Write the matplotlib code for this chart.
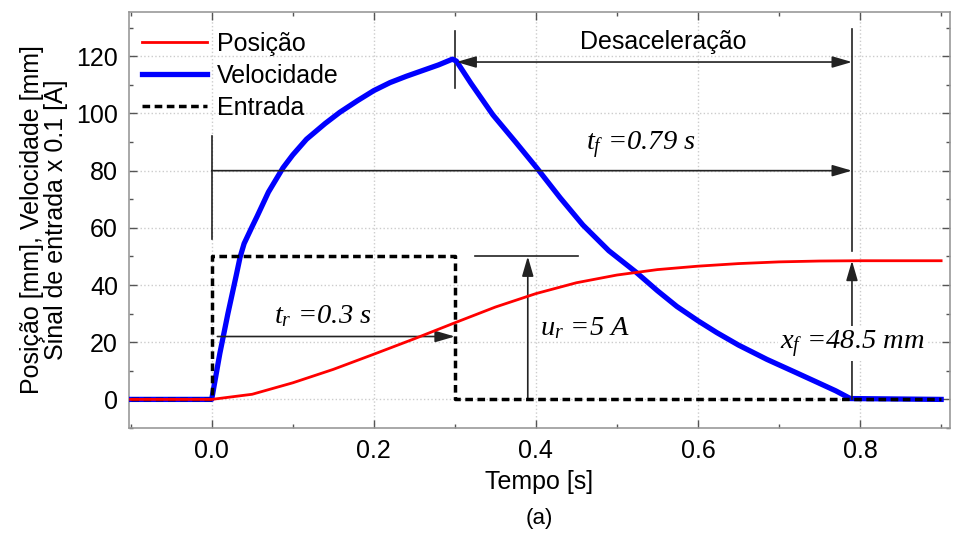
import numpy as np
import matplotlib
matplotlib.use("Agg")
import matplotlib.pyplot as plt
from matplotlib.ticker import MultipleLocator, FormatStrFormatter

plt.rcParams['font.family'] = ['Liberation Sans', 'DejaVu Sans']
plt.rcParams['mathtext.fontset'] = 'custom'
plt.rcParams['mathtext.it'] = 'Liberation Serif:italic'
plt.rcParams['mathtext.rm'] = 'Liberation Serif:italic'

# velocity
t_vel = [-0.1, 0.0, 0.01, 0.02, 0.03, 0.035, 0.04, 0.05, 0.056, 0.07, 0.088,
         0.1, 0.117, 0.14, 0.158, 0.18, 0.2, 0.22, 0.24, 0.26, 0.28, 0.297,
         0.302, 0.32, 0.347, 0.375, 0.401, 0.43, 0.458, 0.49, 0.524, 0.55,
         0.574, 0.6, 0.623, 0.65, 0.685, 0.72, 0.747, 0.77, 0.788, 0.9]
vel = [0, 0, 16, 30, 43, 49.7, 54.5, 60.5, 64, 72.5, 81,
       85.5, 91, 96.5, 100.4, 104.5, 108, 110.8, 113, 115, 117, 119,
       118.3, 110.5, 99.5, 90, 81, 70.5, 61, 52, 44.4, 38,
       32.5, 27.5, 23.4, 19, 14, 9.5, 6, 3, 0.3, 0]

# position [mm]
t_pos = [-0.1, 0.0, 0.05, 0.1, 0.15, 0.2, 0.25, 0.3, 0.35, 0.4, 0.45,
         0.5, 0.55, 0.6, 0.65, 0.7, 0.75, 0.8, 0.9]
pos = [0, 0, 1.8, 5.8, 10.5, 15.8, 21.2, 26.8, 32.3, 37.0, 40.8,
       43.5, 45.4, 46.6, 47.5, 48.1, 48.4, 48.5, 48.5]

# input signal x 0.1 [A]
t_in = [-0.1, 0.0, 0.0, 0.3, 0.3, 0.9]
u_in = [0, 0, 50, 50, 0, 0]

fig = plt.figure(figsize=(9.73, 5.35), dpi=100)
ax = fig.add_axes([0.1326, 0.2, 0.8438, 0.7776])

ax.plot(t_vel, vel, '-', color='#0000ff', lw=3.8, label='Velocidade', zorder=3)
ax.plot(t_in, u_in, '--', color='black', lw=2.5, dashes=(2.2, 1.3), label='Entrada', zorder=4)
ax.plot(t_pos, pos, '-', color='#ff0000', lw=2, label='Posição', zorder=5)

ax.set_xlim(-0.102, 0.911)
ax.set_ylim(-10, 135.5)
ax.xaxis.set_major_locator(MultipleLocator(0.2))
ax.xaxis.set_minor_locator(MultipleLocator(0.1))
ax.yaxis.set_major_locator(MultipleLocator(20))
ax.yaxis.set_minor_locator(MultipleLocator(10))
ax.xaxis.set_major_formatter(FormatStrFormatter('%.1f'))
ax.tick_params(which='both', direction='in', top=True, right=True,
               color='#555555', labelsize=18, pad=8)
ax.tick_params(which='major', length=6, width=1)
ax.tick_params(which='minor', length=3, width=1)
for s in ax.spines.values():
    s.set_color('#999999')
    s.set_linewidth(1.2)
ax.grid(True, which='major', ls=':', color='#cccccc', lw=1)

ax.set_xlabel('Tempo [s]', fontsize=18, labelpad=5)
ax.set_ylabel('Posição [mm], Velocidade [mm]\nSinal de entrada x 0.1 [A]',
              fontsize=18, linespacing=1.0, labelpad=6)

h, l = ax.get_legend_handles_labels()
order = [2, 0, 1]
ax.legend([h[i] for i in order], [l[i] for i in order], loc='upper left',
          bbox_to_anchor=(0.004, 0.976),
          frameon=False, fontsize=18, handlelength=2.6, labelspacing=0.32,
          borderaxespad=0.1, borderpad=0.3, handletextpad=0.4)

ak = dict(arrowstyle='-|>,head_length=1.2,head_width=0.35', color='#222222',
          lw=1.2, shrinkA=0, shrinkB=0)
ak2 = dict(arrowstyle='<|-|>,head_length=1.2,head_width=0.35', color='#222222',
           lw=1.2, shrinkA=0, shrinkB=0)
lc = '#222222'
it = dict(family='Liberation Serif', style='italic', fontsize=20.5)

# t_f
ax.plot([0.0, 0.0], [56, 92], color=lc, lw=1.2)
ax.annotate('', xy=(0.79, 80), xytext=(0.0, 80), arrowprops=ak)
ax.text(0.53, 83.5, r'$t_f$ =0.79 s', ha='center', va='bottom', **it)

# Desaceleracao
ax.plot([0.3, 0.3], [109, 129], color=lc, lw=1.2)
ax.plot([0.79, 0.79], [52, 129.5], color=lc, lw=1.2)
ax.annotate('', xy=(0.79, 118), xytext=(0.302, 118), arrowprops=ak2)
ax.text(0.557, 125, 'Desaceleração', fontsize=18, ha='center', va='center')

# t_r
ax.annotate('', xy=(0.3, 22), xytext=(0.007, 22), arrowprops=ak)
ax.text(0.137, 24.5, r'$t_r$ =0.3 s', ha='center', va='bottom', **it)

# u_r
ax.plot([0.325, 0.452], [50, 50], color=lc, lw=1.2)
ax.annotate('', xy=(0.39, 50), xytext=(0.39, 0), arrowprops=ak)
ax.text(0.405, 25, r'$u_r$ =5 A', ha='left', va='center', **it)

# x_f
ax.annotate('', xy=(0.79, 48.5), xytext=(0.79, 0), arrowprops=ak)
ax.text(0.79, 19.5, r'$x_f$ =48.5 mm', ha='center', va='center',
        bbox=dict(facecolor='white', edgecolor='none', pad=1), zorder=6, **it)

fig.text(0.554, 0.03, '(a)', fontsize=16, ha='center', va='center')

fig.savefig('out.png', dpi=100)
